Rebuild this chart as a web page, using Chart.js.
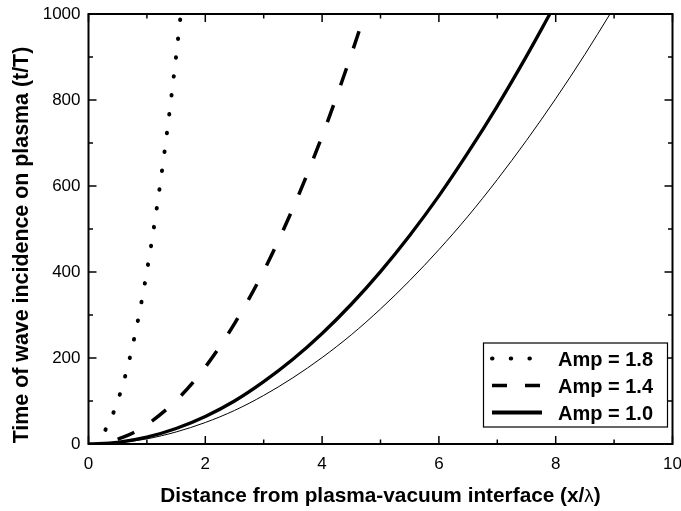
<!DOCTYPE html>
<html>
<head>
<meta charset="utf-8">
<script src="https://cdn.jsdelivr.net/npm/chart.js@4.4.1/dist/chart.umd.min.js"></script>
<style>
html,body{margin:0;padding:0;background:#fff;}
#wrap{width:681px;height:511px;position:relative;}
</style>
</head>
<body>
<div id="wrap"><canvas id="c" width="681" height="511"></canvas></div>
<script>
// ---- data ----
const xTickLabels = [0, 2, 4, 6, 8, 10];
const yTickLabels = [0, 200, 400, 600, 800, 1000];
const xMinorTicks = [1, 3, 5, 7, 9];
const yMinorTicks = [100, 300, 500, 700, 900];

const amp18Label = 'Amp = 1.8';
const amp18X = [0.29, 0.4, 0.5, 0.6, 0.7, 0.8, 0.9, 1.0, 1.1, 1.2, 1.3, 1.4, 1.5, 1.58];
const amp18T = [33, 64, 100, 144, 196, 257, 325, 402, 486, 578, 678, 786, 902, 1000];

const amp14Label = 'Amp = 1.4';
const amp14X = [0.5, 0.75, 1.0, 1.5, 2.0, 2.5, 3.0, 3.5, 4.0, 4.5, 4.73];
const amp14T = [11, 25, 45, 101, 179, 280, 402, 548, 716, 906, 1000];

const amp10Label = 'Amp = 1.0';
const amp10X = [0, 0.5, 1.0, 1.5, 2.0, 2.5, 3.0, 3.5, 4.0, 4.5, 5.0, 5.5, 6.0, 6.5, 7.0, 7.5, 7.9];
const amp10T = [0, 4, 16, 36, 64, 100, 145, 197, 257, 325, 401, 485, 577, 678, 786, 902, 1000];

const refX = [0, 0.5, 1.0, 1.5, 2.0, 2.5, 3.0, 3.5, 4.0, 4.5, 5.0, 5.5, 6.0, 6.5, 7.0, 7.5, 8.0, 8.5, 8.93];
const refT = [0, 3, 12, 28, 50, 78, 113, 154, 201, 254, 314, 380, 452, 530, 615, 706, 803, 906, 1000];

const xTitle = 'Distance from plasma-vacuum interface (x/';
const xTitleSym = '\u03bb';
const xTitleEnd = ')';
const yTitle = 'Time of wave incidence on plasma (t/T)';

const FONT = '"Liberation Sans", Arial, Helvetica, sans-serif';

function pts(xs, ts) { return xs.map((x, i) => ({ x: x, y: ts[i] })); }

const overlay = {
  id: 'overlay',
  afterDatasetsDraw(chart) {
    const ctx = chart.ctx;
    const a = chart.chartArea;
    const sx = chart.scales.x, sy = chart.scales.y;
    ctx.save();
    ctx.strokeStyle = '#000';
    ctx.lineCap = 'butt';
    function seg(x1, y1, x2, y2) { ctx.beginPath(); ctx.moveTo(x1, y1); ctx.lineTo(x2, y2); ctx.stroke(); }
    ctx.lineWidth = 1.5;
    const MAJ = 8, MIN = 4.5;
    xTickLabels.forEach(v => { const p = sx.getPixelForValue(v); seg(p, a.bottom, p, a.bottom - MAJ); seg(p, a.top, p, a.top + MAJ); });
    xMinorTicks.forEach(v => { const p = sx.getPixelForValue(v); seg(p, a.bottom, p, a.bottom - MIN); seg(p, a.top, p, a.top + MIN); });
    yTickLabels.forEach(v => { const p = sy.getPixelForValue(v); seg(a.left, p, a.left + MAJ, p); seg(a.right, p, a.right - MAJ, p); });
    yMinorTicks.forEach(v => { const p = sy.getPixelForValue(v); seg(a.left, p, a.left + MIN, p); seg(a.right, p, a.right - MIN, p); });
    ctx.lineWidth = 2;
    ctx.strokeRect(a.left, a.top, a.right - a.left, a.bottom - a.top);

    // legend box
    const L = { x: 483.5, y: 343, w: 184, h: 84 };
    ctx.fillStyle = '#fff';
    ctx.fillRect(L.x, L.y, L.w, L.h);
    ctx.lineWidth = 1.2;
    ctx.strokeRect(L.x, L.y, L.w, L.h);
    const rows = [358.5, 385.5, 412.5];
    const items = chart.data.datasets.filter(d => d.label);
    items.forEach((d, i) => {
      const yy = rows[i];
      ctx.save();
      ctx.strokeStyle = '#000';
      ctx.lineWidth = d.legendWidth;
      ctx.lineCap = d.borderCapStyle || 'butt';
      ctx.setLineDash(d.legendDash || []);
      ctx.beginPath(); ctx.moveTo(492, yy); ctx.lineTo(542, yy); ctx.stroke();
      ctx.restore();
      ctx.fillStyle = '#000';
      ctx.font = 'bold 20px ' + FONT;
      ctx.textAlign = 'left';
      ctx.textBaseline = 'alphabetic';
      ctx.fillText(d.label, 558, yy + 7);
    });

    // x title (lambda in a lighter symbol face)
    ctx.fillStyle = '#000';
    ctx.textBaseline = 'alphabetic';
    ctx.textAlign = 'left';
    const fb = 'bold 20.8px ' + FONT, fn = '19px ' + FONT;
    ctx.font = fb; const w1 = ctx.measureText(xTitle).width; const w3 = ctx.measureText(xTitleEnd).width;
    ctx.font = fn; const w2 = ctx.measureText(xTitleSym).width;
    const cx = (a.left + a.right) / 2;
    let x0 = cx - (w1 + w2 + w3) / 2;
    const by = 502;
    ctx.font = fb; ctx.fillText(xTitle, x0, by);
    ctx.font = fn; ctx.fillText(xTitleSym, x0 + w1, by);
    ctx.font = fb; ctx.fillText(xTitleEnd, x0 + w1 + w2, by);

    // y title
    ctx.save();
    ctx.translate(28, 245);
    ctx.rotate(-Math.PI / 2);
    ctx.font = 'bold 21.4px ' + FONT;
    ctx.textAlign = 'center';
    ctx.fillText(yTitle, 0, 0);
    ctx.restore();
    ctx.restore();
  }
};

new Chart(document.getElementById('c'), {
  type: 'line',
  data: {
    datasets: [
      { label: amp18Label, data: pts(amp18X, amp18T), borderColor: '#000', borderWidth: 4,
        borderDash: [0.5, 18.5], borderCapStyle: 'round', legendDash: [0.5, 18.2], legendWidth: 4 },
      { label: amp14Label, data: pts(amp14X, amp14T), borderColor: '#000', borderWidth: 3.5,
        borderDash: [18, 21], borderCapStyle: 'butt', legendDash: [15, 18], legendWidth: 3.5 },
      { label: amp10Label, data: pts(amp10X, amp10T), borderColor: '#000', borderWidth: 3.3,
        borderCapStyle: 'butt', legendWidth: 3.8 },
      { label: '', data: pts(refX, refT), borderColor: '#000', borderWidth: 1 }
    ]
  },
  options: {
    responsive: false,
    animation: false,
    devicePixelRatio: 1,
    layout: { padding: { left: 0, right: 8.5, top: 14, bottom: 0 } },
    elements: { point: { radius: 0 }, line: { cubicInterpolationMode: 'monotone', fill: false } },
    plugins: { legend: { display: false }, tooltip: { enabled: false } },
    scales: {
      x: {
        type: 'linear', min: 0, max: 10,
        afterFit(s) { s.height = 67; s.paddingLeft = 0; s.paddingRight = 0; },
        grid: { display: false, drawTicks: false },
        border: { display: false },
        ticks: { stepSize: 2, padding: 10, color: '#000', font: { family: FONT, size: 17 },
                 callback: v => xTickLabels.includes(v) ? String(v) : '' }
      },
      y: {
        type: 'linear', min: 0, max: 1000,
        afterFit(s) { s.width = 88.5; s.paddingTop = 0; s.paddingBottom = 0; },
        grid: { display: false, drawTicks: false },
        border: { display: false },
        ticks: { stepSize: 200, padding: 8, color: '#000', font: { family: FONT, size: 17 },
                 callback: v => yTickLabels.includes(v) ? String(v) : '' }
      }
    }
  },
  plugins: [overlay]
});
</script>
</body>
</html>
